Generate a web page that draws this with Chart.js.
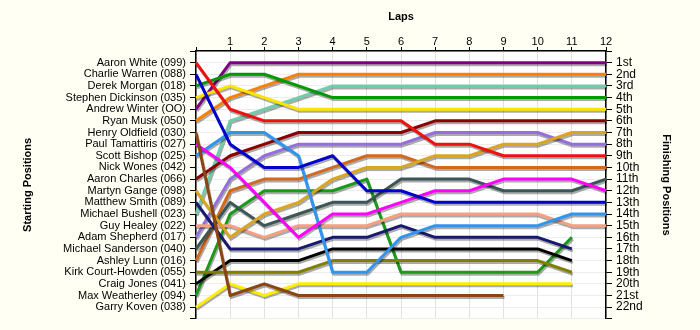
<!DOCTYPE html>
<html>
<head>
<meta charset="utf-8">
<script src="https://cdn.jsdelivr.net/npm/chart.js@4.4.1/dist/chart.umd.min.js"></script>
<style>
html,body{margin:0;padding:0;background:#FFFFF4;}
#wrap{width:700px;height:330px;}
</style>
</head>
<body>
<div id="wrap"><canvas id="c" width="700" height="330"></canvas></div>
<script>
// ---- data ----
const laps = [0,1,2,3,4,5,6,7,8,9,10,11,12];
const lapTickLabels = ['', '1','2','3','4','5','6','7','8','9','10','11','12'];
const drivers = [
  'Aaron White (099)','Charlie Warren (088)','Derek Morgan (018)','Stephen Dickinson (035)',
  'Andrew Winter (OO)','Ryan Musk (050)','Henry Oldfield (030)','Paul Tamattiris (027)',
  'Scott Bishop (025)','Nick Wones (042)','Aaron Charles (066)','Martyn Gange (098)',
  'Matthew Smith (089)','Michael Bushell (023)','Guy Healey (022)','Adam Shepherd (017)',
  'Michael Sanderson (040)','Ashley Lunn (016)','Kirk Court-Howden (055)','Craig Jones (041)',
  'Max Weatherley (094)','Garry Koven (038)'
];
const finishLabels = ['1st','2nd','3rd','4th','5th','6th','7th','8th','9th','10th','11th',
  '12th','13th','14th','15th','16th','17th','18th','19th','20th','21st','22nd'];

// positions per lap (lap 0 = start)
const posAaronWhite       = [1,5,6,6,6,6,6,8,8,9,9,9,9];
const posCharlieWarren    = [2,8,10,10,9,12,12,13,13,13,13,13,13];
const posDerekMorgan      = [3,2,2,3,4,4,4,4,4,4,4,4,4];
const posStephenDickinson = [4,3,4,5,5,5,5,5,5,5,5,5,5];
const posAndrewWinter     = [5,1,1,1,1,1,1,1,1,1,1,1,1];
const posRyanMusk         = [6,4,3,2,2,2,2,2,2,2,2,2,2];
const posHenryOldfield    = [7,21,20,21,21,21,21,21,21,21];
const posPaulTamattiris   = [8,10,13,16,14,14,13,12,12,11,11,11,12];
const posScottBishop      = [9,7,7,9,19,19,16,15,15,15,15,14,14];
const posNickWones        = [10];
const posAaronCharles     = [11,9,8,7,7,7,7,6,6,6,6,6,6];
const posMartynGange      = [12,16,14,13,11,10,10,9,9,8,8,7,7];
const posMatthewSmith     = [13,17,17,17,16,16,15,16,16,16,16,17];
const posMichaelBushell   = [14,6,5,4,3,3,3,3,3,3,3,3,3];
const posGuyHealey        = [15,15,16,15,15,15,14,14,14,14,14,15,15];
const posAdamShepherd     = [16,11,9,8,8,8,8,7,7,7,7,8,8];
const posMichaelSanderson = [17,13,15,14,13,13,11,11,11,12,12,12,11];
const posAshleyLunn       = [18,12,11,11,10,9,9,10,10,10,10,10,10];
const posKirkCourtHowden  = [19,19,19,19,18,18,18,18,18,18,18,19];
const posCraigJones       = [20,18,18,18,17,17,17,17,17,17,17,18];
const posMaxWeatherley    = [21,14,12,12,12,11,19,19,19,19,19,16];
const posGarryKoven       = [22,20,21,20,20,20,20,20,20,20,20,20];

const positions = [posAaronWhite,posCharlieWarren,posDerekMorgan,posStephenDickinson,
  posAndrewWinter,posRyanMusk,posHenryOldfield,posPaulTamattiris,posScottBishop,posNickWones,
  posAaronCharles,posMartynGange,posMatthewSmith,posMichaelBushell,posGuyHealey,posAdamShepherd,
  posMichaelSanderson,posAshleyLunn,posKirkCourtHowden,posCraigJones,posMaxWeatherley,posGarryKoven];

const colors = ['#F01010','#0000CD','#009A00','#FFE400','#7F007F','#FF8000','#8B4513','#FF00FF',
  '#2F95F0','#888888','#8B0000','#DAA520','#191970','#70CDAA','#F5A080','#9370DB',
  '#3A5656','#D2691E','#808000','#000000','#1A9A1A','#FFEE00'];

// ---- plugins ----
const bgPlugin = {
  id:'bg',
  beforeDraw(chart){
    const {ctx, chartArea:a} = chart;
    ctx.save();
    ctx.fillStyle = '#FFFFF4';
    ctx.fillRect(0,0,chart.width,chart.height);
    ctx.fillStyle = '#FFFFFF';
    ctx.fillRect(a.left,a.top,a.right-a.left,a.bottom-a.top);
    ctx.restore();
  }
};
const shadowPlugin = {
  id:'shadow',
  beforeDatasetsDraw(chart){
    const c = chart.ctx;
    c.save();
    c.shadowColor = 'rgba(0,0,0,0.33)';
    c.shadowOffsetX = 1;
    c.shadowOffsetY = 2;
    c.shadowBlur = 0;
  },
  afterDatasetsDraw(chart){ chart.ctx.restore(); }
};

Chart.defaults.font.family = "'Liberation Sans', Arial, sans-serif";
Chart.defaults.font.size = 11;
Chart.defaults.color = '#000';

const allTicks = (scale) => { scale.ticks = Array.from({length:24}, (_, i) => ({value:i})); };

new Chart(document.getElementById('c'), {
  type:'line',
  data:{
    labels: laps,
    datasets: drivers.map((name, i) => ({
      label: name,
      data: positions[i],
      borderColor: colors[i],
      backgroundColor: colors[i],
      borderWidth: 3,
      pointRadius: 0,
      tension: 0,
      fill: false,
      borderJoinStyle: 'round',
      yAxisID: 'y'
    }))
  },
  options:{
    responsive:false,
    animation:false,
    layout:{padding:{left:0,right:0,top:0,bottom:11}},
    plugins:{legend:{display:false}, tooltip:{enabled:false}},
    scales:{
      x:{
        type:'category',
        position:'top',
        offset:false,
        grid:{color:'#E0E0E0', lineWidth:1, tickColor:'#000', tickLength:4, drawTicks:true},
        border:{display:true, color:'#000', width:1.5},
        ticks:{padding:-2, autoSkip:false, maxRotation:0,
          callback:(v, i) => lapTickLabels[i]},
        title:{display:true, text:'Laps', font:{weight:'bold', size:11}, padding:{top:10,bottom:0}},
        afterFit:(s) => { s.height = 51; }
      },
      y:{
        type:'linear',
        position:'left',
        reverse:true,
        min:0, max:23,
        afterBuildTicks: allTicks,
        grid:{color:'#EDEDED', lineWidth:1, tickColor:'#000', tickLength:6},
        border:{display:true, color:'#000', width:1.5},
        ticks:{padding:4, autoSkip:false,
          callback:(v) => (v >= 1 && v <= 22) ? drivers[v-1] : ''},
        title:{display:true, text:'Starting Positions', font:{weight:'bold', size:11}, padding:{top:21,bottom:0}},
        afterFit:(s) => { s.width = 196; }
      },
      y2:{
        type:'linear',
        position:'right',
        reverse:true,
        min:0, max:23,
        afterBuildTicks: allTicks,
        grid:{drawOnChartArea:false, tickColor:'#000', tickLength:6},
        border:{display:true, color:'#000', width:1.5},
        ticks:{padding:4, autoSkip:false, font:{size:12},
          callback:(v) => (v >= 1 && v <= 22) ? finishLabels[v-1] : ''},
        title:{display:true, text:'Finishing Positions', font:{weight:'bold', size:11}, padding:{top:27,bottom:0}},
        afterFit:(s) => { s.width = 94; }
      }
    }
  },
  plugins:[bgPlugin, shadowPlugin]
});
</script>
</body>
</html>
